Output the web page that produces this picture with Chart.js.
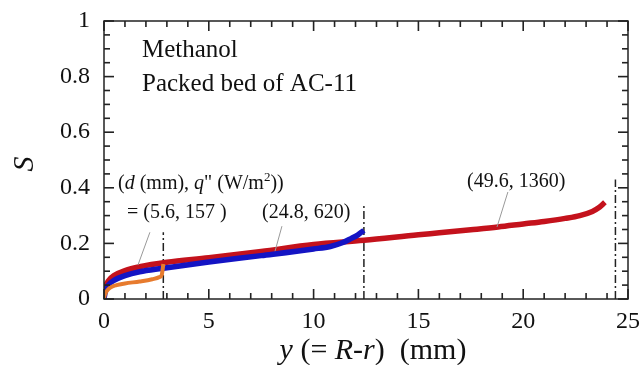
<!DOCTYPE html>
<html>
<head>
<meta charset="utf-8">
<script src="https://cdn.jsdelivr.net/npm/chart.js@4.4.0/dist/chart.umd.min.js"></script>
<style>
  html, body { margin: 0; padding: 0; background: #fff; }
  #wrap { width: 641px; height: 365px; position: relative; }
</style>
</head>
<body>
<div id="wrap"><canvas id="myChart" width="641" height="365"></canvas></div>
<script>
// curves, y = R-r (mm) against S
var redX = [0, 0.05, 0.2, 0.5, 1, 1.7, 3, 5, 7.5, 10, 12.4, 15, 16, 17.5, 18.8, 20, 21, 22, 22.7, 23.3, 23.6, 23.9];
var redS = [0, 0.035, 0.064, 0.085, 0.102, 0.116, 0.132, 0.148, 0.171, 0.196, 0.211, 0.231, 0.238, 0.249, 0.259, 0.27, 0.279, 0.29, 0.3, 0.315, 0.328, 0.348];

var blueX = [0, 0.05, 0.2, 0.5, 1, 1.7, 2.75, 5, 7.5, 10, 10.8, 11.4, 11.8, 12.1, 12.4];
var blueS = [0, 0.025, 0.049, 0.068, 0.084, 0.098, 0.11, 0.133, 0.156, 0.18, 0.189, 0.203, 0.218, 0.23, 0.247];

var orangeX = [0, 0.03, 0.1, 0.3, 0.6, 1, 1.7, 2.3, 2.65, 2.76, 2.8, 2.83];
var orangeS = [0, 0.012, 0.025, 0.041, 0.05, 0.056, 0.063, 0.071, 0.079, 0.088, 0.108, 0.126];

// dash-dot lines at each bed radius (x) with their top (S)
var wallX = [2.83, 12.4, 24.4];
var wallTop = [0.24, 0.335, 0.43];

var xTicks = [0, 5, 10, 15, 20, 25];
var yTicks = [0, 0.2, 0.4, 0.6, 0.8, 1];

var serif = "'Liberation Serif', 'DejaVu Serif', serif";

function toPoints(xs, ys) {
    var pts = [];
    for (let i = 0; i < xs.length; ++i) {
        pts.push({ x: xs[i], y: ys[i] });
    }
    return pts;
}

function curve(xs, ys, color, width, order) {
    return {
        data: toPoints(xs, ys),
        borderColor: color,
        borderWidth: width,
        pointRadius: 0,
        showLine: true,
        cubicInterpolationMode: 'monotone',
        order: order
    };
}

var datasets = [
    curve(orangeX, orangeS, '#e77b2e', 4, 1),
    curve(blueX, blueS, '#1414c4', 5.5, 2),
    curve(redX, redS, '#c4121c', 5.5, 3)
];
for (let i = 0; i < wallX.length; ++i) {
    datasets.push({
        data: [{ x: wallX[i], y: 0 }, { x: wallX[i], y: wallTop[i] }],
        borderColor: '#222',
        borderWidth: 1.5,
        borderDash: [8, 3, 2, 3],
        pointRadius: 0,
        showLine: true,
        order: 4
    });
}

// frame with inward ticks on all four sides
function drawFrame(chart) {
    const c = chart.ctx, a = chart.chartArea;
    c.save();
    c.setLineDash([]);
    c.strokeStyle = '#222';
    c.lineWidth = 1.5;
    c.strokeRect(a.left, a.top, a.right - a.left, a.bottom - a.top);
    c.fillStyle = '#222';
    for (let v = 0; v <= 25; v++) {
        let px = a.left + (a.right - a.left) * v / 25;
        let len = (v % 5 === 0) ? 10 : 6;
        c.fillRect(px - 0.8, a.bottom - len, 1.6, len);
        c.fillRect(px - 0.8, a.top, 1.6, len);
    }
    for (let k = 0; k <= 20; k++) {
        let py = a.bottom - (a.bottom - a.top) * k / 20;
        let len = (k % 4 === 0) ? 10 : 6;
        c.fillRect(a.left, py - 0.8, len, 1.6);
        c.fillRect(a.right - len, py - 0.8, len, 1.6);
    }
    c.restore();
}

// draw a run of text pieces, each with its own style
function runText(c, x, y, pieces, size) {
    for (let p of pieces) {
        let fs = p.sup ? size * 0.65 : size;
        c.font = (p.it ? 'italic ' : '') + fs + 'px ' + serif;
        c.fillText(p.t, x, p.sup ? y - size * 0.4 : y);
        x += c.measureText(p.t).width;
    }
    return x;
}

function runWidth(c, pieces, size) {
    let w = 0;
    for (let p of pieces) {
        let fs = p.sup ? size * 0.65 : size;
        c.font = (p.it ? 'italic ' : '') + fs + 'px ' + serif;
        w += c.measureText(p.t).width;
    }
    return w;
}

const labels = {
    id: 'labels',
    afterDraw(chart) {
        drawFrame(chart);
        const c = chart.ctx;
        const xs = chart.scales.x, ys = chart.scales.y;
        c.save();
        c.fillStyle = '#111';
        c.textBaseline = 'alphabetic';
        c.textAlign = 'left';

        c.font = '25px ' + serif;
        c.fillText('Methanol', 142, 57);
        c.fillText('Packed bed of AC-11', 142, 91);

        // legend-ish notes
        runText(c, 118, 189, [
            { t: '(' }, { t: 'd', it: true }, { t: ' (mm), ' }, { t: 'q', it: true },
            { t: '" (W/m' }, { t: '2', sup: true }, { t: '))' }
        ], 20);
        c.font = '20px ' + serif;
        c.fillText('= (5.6, 157 )', 127, 218);
        c.fillText('(24.8, 620)', 262, 218);
        c.fillText('(49.6, 1360)', 467, 187);

        // thin pointer lines, in data units
        const leaders = [[2.19, 0.24, 1.62, 0.122], [8.49, 0.262, 8.16, 0.172], [19.27, 0.385, 18.75, 0.259]];
        c.strokeStyle = '#999';
        c.lineWidth = 1;
        c.beginPath();
        for (let l of leaders) {
            c.moveTo(xs.getPixelForValue(l[0]), ys.getPixelForValue(l[1]));
            c.lineTo(xs.getPixelForValue(l[2]), ys.getPixelForValue(l[3]));
        }
        c.stroke();

        // x axis title
        const xt = [
            { t: 'y', it: true }, { t: ' (= ' }, { t: 'R', it: true }, { t: '-' },
            { t: 'r', it: true }, { t: ')  (mm)' }
        ];
        let w = runWidth(c, xt, 30);
        runText(c, 373 - w / 2, 359, xt, 30);

        // y axis title
        c.translate(33, 164);
        c.rotate(-Math.PI / 2);
        c.textAlign = 'center';
        c.font = 'italic 30px ' + serif;
        c.fillText('S', 0, 0);
        c.restore();
    }
};

const config = {
    type: 'scatter',
    data: { datasets: datasets },
    options: {
        responsive: false,
        animation: false,
        layout: { padding: { top: 21, right: 13, left: 0, bottom: 0 } },
        plugins: { legend: { display: false }, tooltip: { enabled: false } },
        scales: {
            x: {
                type: 'linear', min: 0, max: 25,
                grid: { display: false, drawTicks: false },
                border: { display: false },
                afterBuildTicks: function (s) { s.ticks = xTicks.map(v => ({ value: v })); },
                afterFit: function (s) { s.height = 66; s.paddingLeft = 0; s.paddingRight = 0; },
                ticks: { padding: 8, color: '#111', font: { family: serif, size: 24 }, maxRotation: 0,
                    callback: v => String(v) }
            },
            y: {
                type: 'linear', min: 0, max: 1,
                grid: { display: false, drawTicks: false },
                border: { display: false },
                afterBuildTicks: function (s) { s.ticks = yTicks.map(v => ({ value: v })); },
                afterFit: function (s) { s.width = 104; s.paddingTop = 0; s.paddingBottom = 0; },
                ticks: { padding: 14, color: '#111', font: { family: serif, size: 24 },
                    callback: v => (v === 0 || v === 1) ? String(v) : v.toFixed(1) }
            }
        }
    },
    plugins: [labels]
};

const rendering = document.getElementById('myChart').getContext('2d');
let renderingChart = new Chart(rendering, config);
</script>
</body>
</html>
